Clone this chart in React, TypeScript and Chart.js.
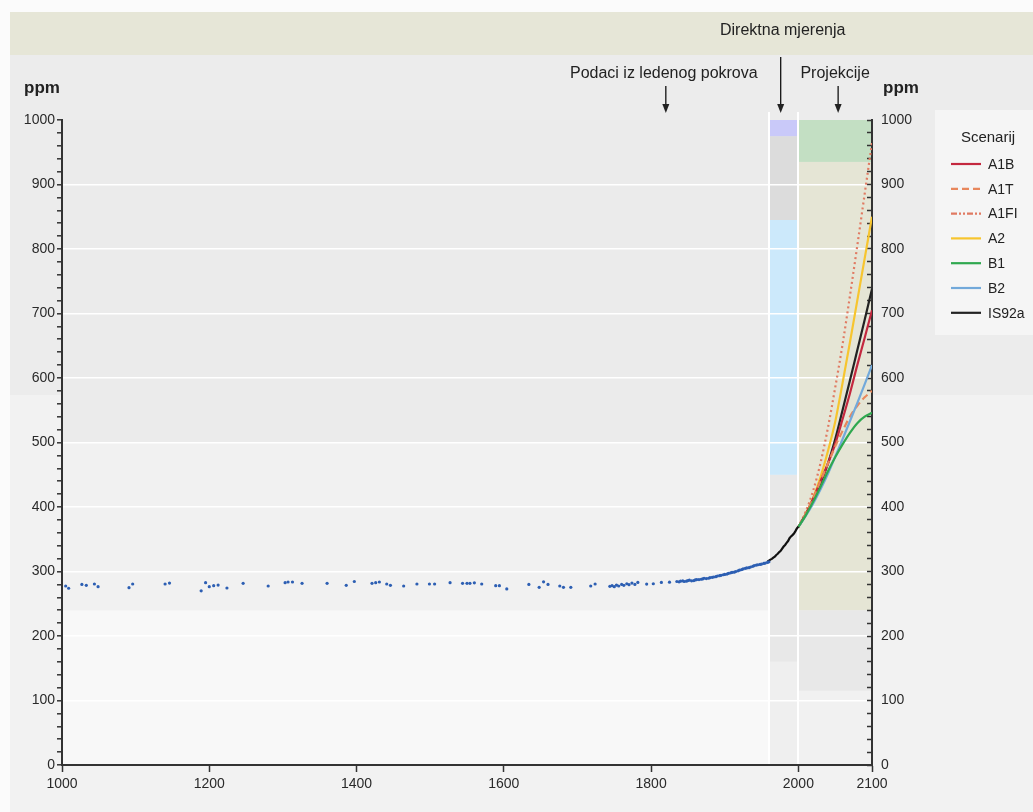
import React, { useEffect, useRef } from "react";
import { Chart, registerables } from "chart.js";

Chart.register(...registerables);

const W = 1033;
const H = 812;
const FONT = "'Liberation Sans', Arial, sans-serif";

// ---- data ----
const xTickValues = [1000, 1200, 1400, 1600, 1800, 2000, 2100];

const iceYears = [
  1005, 1009, 1027, 1033, 1044, 1049, 1091, 1096, 1140, 1146, 1189, 1195, 1200, 1206, 1212, 1224, 1246, 1280,
  1303, 1307, 1313, 1326, 1360, 1386, 1397, 1421, 1426, 1431, 1441, 1446, 1464, 1482, 1499, 1506, 1527, 1544,
  1550, 1554, 1560, 1570, 1589, 1594, 1604, 1634, 1648, 1654, 1660, 1676, 1681, 1691, 1718, 1724, 1744, 1747,
  1750, 1753, 1756, 1760, 1763, 1767, 1770, 1774, 1778, 1782, 1794, 1803, 1814, 1825, 1835, 1838, 1840, 1843,
  1845, 1848, 1850, 1852, 1855, 1858, 1860, 1862, 1865, 1868, 1870, 1872, 1875, 1878, 1880, 1883, 1885, 1888,
  1890, 1893, 1895, 1898, 1900, 1903, 1905, 1908, 1910, 1913, 1915, 1918, 1920, 1923, 1925, 1928, 1930, 1933,
  1935, 1938, 1940, 1943, 1945, 1948, 1950, 1953, 1955, 1958, 1960,
];
const iceCO2 = [
  277.5, 274, 280, 278.6, 280.6, 276.4, 275, 280.6, 280.6, 282, 270, 282.6, 276.4, 278, 279, 274.4, 281.6, 277.5,
  282.6, 283.7, 283.7, 281.6, 281.6, 278.6, 284.5, 281.6, 282.6, 283.7, 280.6, 278.6, 277.5, 280.6, 280.6, 280.6, 282.6, 281.6,
  281.6, 281.6, 282.5, 280.6, 278, 278, 273, 280, 275.4, 284, 280, 277.5, 275.4, 275.4, 277.5, 280.6, 277, 278,
  276.5, 279, 277.5, 280, 278.5, 281, 279.5, 282, 280, 283, 280.5, 281, 283, 283.5, 284.5, 284, 285, 285.5,
  284.5, 285, 286, 286.5, 285.5, 286, 287, 287.5, 287.5, 288, 288.5, 289.5, 289, 289.5, 290.5, 291, 291.5, 292,
  293, 293.5, 294, 295, 295.5, 296, 297, 298, 298.5, 299, 300, 301, 302, 303, 304, 305, 305.5, 306,
  307, 308, 309, 310, 310.5, 311, 311.5, 312.5, 313, 314, 315,
];

const directYears = [1958, 1960, 1962, 1964, 1966, 1968, 1970, 1972, 1974, 1976, 1978, 1980, 1982, 1984, 1986, 1988, 1990, 1992, 1994, 1996, 1998, 2000];
const directCO2 = [315.3, 316.9, 318.4, 319.6, 321.4, 323.0, 325.7, 327.5, 330.2, 332.0, 335.4, 338.7, 341.1, 344.4, 347.2, 351.6, 354.4, 356.4, 358.8, 362.6, 366.7, 369.5];

const scenarioYears = [2000, 2010, 2020, 2030, 2040, 2050, 2060, 2070, 2080, 2090, 2100];
const scenarioNames = ["A1B", "A1T", "A1FI", "A2", "B1", "B2", "IS92a"];
const A1B = [369, 389, 413, 440, 467, 498, 536, 576, 620, 662, 705];
const A1T = [369, 389, 413, 440, 467, 494, 518, 540, 557, 570, 580];
const A1FI = [369, 393, 425, 468, 522, 585, 652, 727, 805, 885, 965];
const A2 = [369, 389, 414, 446, 486, 532, 592, 655, 720, 785, 850];
const B1 = [369, 387, 408, 431, 455, 477, 497, 515, 530, 540, 546];
const B2 = [369, 386, 405, 427, 451, 478, 505, 533, 561, 590, 620];
const IS92a = [369, 388, 411, 437, 467, 505, 550, 596, 643, 690, 738];

const labelIce = "Podaci iz ledenog pokrova";
const labelDirect = "Direktna mjerenja";
const labelProj = "Projekcije";
const legendTitle = "Scenarij";
const unitLabel = "ppm";

// ---- styles ----
const scenarioValues = [A1B, A1T, A1FI, A2, B1, B2, IS92a];
const scenarioColors = ["#c4283f", "#e8875c", "#e07a62", "#f7c52e", "#2fa84f", "#72a9da", "#222222"];
const scenarioDash: number[][] = [[], [7, 4], [2, 3], [], [], [], []];
const legendDash: number[][] = [[], [7, 4], [6, 2, 2, 2, 2, 2], [], [], [], []];
const drawOrder = [4, 5, 1, 0, 6, 3, 2];

const pts = (xs: number[], ys: number[]) => xs.map((x, i) => ({ x, y: ys[i] }));

const bgPlugin = {
  id: "bgPlugin",
  beforeDraw(chart: any) {
    const { ctx, chartArea: ca, scales } = chart;
    const xs = scales.x;
    const ys = scales.y;
    const band = (x0: number, x1: number, v0: number, v1: number, color: string) => {
      const px0 = xs.getPixelForValue(x0);
      const px1 = xs.getPixelForValue(x1);
      const py0 = ys.getPixelForValue(v1);
      const py1 = ys.getPixelForValue(v0);
      ctx.fillStyle = color;
      ctx.fillRect(px0, py0, px1 - px0, py1 - py0);
    };
    ctx.save();
    ctx.fillStyle = "#fbfbfb";
    ctx.fillRect(0, 0, W, H);
    ctx.fillStyle = "#ececec";
    ctx.fillRect(10, 12, W - 10, 383);
    ctx.fillStyle = "#f2f2f2";
    ctx.fillRect(10, 395, W - 10, H - 395);
    ctx.fillStyle = "#e6e6d7";
    ctx.fillRect(10, 12, W - 10, 43);

    // plot area bands
    band(1000, 2100, 0, 240, "#f8f8f8");
    band(1000, 2100, 240, 500, "#f1f1f1");
    band(1000, 2100, 500, 1000, "#ebebeb");
    // direct measurement column
    band(1960, 2000, 0, 160, "#efefef");
    band(1960, 2000, 160, 450, "#e8e8e8");
    band(1960, 2000, 450, 845, "#cce9fb");
    band(1960, 2000, 845, 975, "#dcdcdc");
    band(1960, 2000, 975, 1000, "#c9c9f9");
    // projection column
    band(2000, 2100, 0, 115, "#f1f1f1");
    band(2000, 2100, 115, 240, "#e8e8e8");
    band(2000, 2100, 240, 935, "#e5e5d5");
    band(2000, 2100, 935, 1000, "#c3dfc3");

    // vertical separators
    ctx.strokeStyle = "#ffffff";
    ctx.lineWidth = 2;
    [1960, 2000].forEach((yr) => {
      const px = Math.round(xs.getPixelForValue(yr));
      ctx.beginPath();
      ctx.moveTo(px, ca.top - 8);
      ctx.lineTo(px, ca.bottom);
      ctx.stroke();
    });

    // legend box
    ctx.fillStyle = "#f5f5f5";
    ctx.fillRect(935, 110, W - 935, 225);
    ctx.restore();
  },
  afterDraw(chart: any) {
    const { ctx, chartArea: ca, scales } = chart;
    const xs = scales.x;
    ctx.save();
    ctx.fillStyle = "#222";
    ctx.strokeStyle = "#111";
    ctx.textBaseline = "middle";
    ctx.textAlign = "center";
    ctx.font = `16px ${FONT}`;

    const arrow = (x: number, y0: number, y1: number) => {
      ctx.lineWidth = 1.3;
      ctx.beginPath();
      ctx.moveTo(x, y0);
      ctx.lineTo(x, y1 - 6);
      ctx.stroke();
      ctx.beginPath();
      ctx.moveTo(x - 3.5, y1 - 9);
      ctx.lineTo(x + 3.5, y1 - 9);
      ctx.lineTo(x, y1);
      ctx.closePath();
      ctx.fill();
    };

    const xIce = xs.getPixelForValue(1820);
    const xDirect = xs.getPixelForValue(1976);
    const xProj = xs.getPixelForValue(2054);
    ctx.fillText(labelDirect, xDirect + 2, 31);
    arrow(xDirect, 57, ca.top - 7);
    ctx.fillText(labelIce, xIce - 2, 74);
    arrow(xIce, 86, ca.top - 7);
    ctx.fillText(labelProj, xProj - 3, 74);
    arrow(xProj, 86, ca.top - 7);

    // unit labels
    ctx.font = `bold 17px ${FONT}`;
    ctx.textAlign = "left";
    ctx.fillText(unitLabel, 24, 88);
    ctx.fillText(unitLabel, 883, 88);

    // legend
    ctx.font = `15px ${FONT}`;
    ctx.textAlign = "center";
    ctx.fillText(legendTitle, 988, 138);
    ctx.font = `14px ${FONT}`;
    ctx.textAlign = "left";
    scenarioNames.forEach((name, i) => {
      const y = 164 + i * 24.8;
      ctx.strokeStyle = scenarioColors[i];
      ctx.lineWidth = 2.2;
      ctx.setLineDash(legendDash[i]);
      ctx.beginPath();
      ctx.moveTo(951, y);
      ctx.lineTo(981, y);
      ctx.stroke();
      ctx.setLineDash([]);
      ctx.fillStyle = "#222";
      ctx.fillText(name, 988, y + 1);
    });
    ctx.restore();
  },
};

export default function App() {
  const canvasRef = useRef<HTMLCanvasElement | null>(null);

  useEffect(() => {
    if (!canvasRef.current) return;
    const tickFont = { family: FONT, size: 14 };
    const yTicks = {
      stepSize: 20,
      autoSkip: false,
      font: tickFont,
      color: "#2a2a2a",
      callback: (v: any) => (Number(v) % 100 === 0 ? String(v) : ""),
    };

    const scenarioSets = drawOrder.map((i) => ({
      label: scenarioNames[i],
      data: pts(scenarioYears, scenarioValues[i]),
      showLine: true,
      borderColor: scenarioColors[i],
      backgroundColor: scenarioColors[i],
      borderWidth: 2.2,
      borderDash: scenarioDash[i],
      pointRadius: 0,
      cubicInterpolationMode: "monotone" as const,
      fill: false,
    }));

    const chart = new Chart(canvasRef.current, {
      type: "scatter",
      data: {
        datasets: [
          {
            label: "ice",
            data: pts(iceYears, iceCO2),
            pointRadius: 1.6,
            pointBackgroundColor: "#2d5fb3",
            pointBorderWidth: 0,
            showLine: false,
          },
          {
            label: "direct",
            data: pts(directYears, directCO2),
            showLine: true,
            borderColor: "#111111",
            borderWidth: 2.2,
            pointRadius: 0,
            fill: false,
          },
          ...scenarioSets,
        ],
      },
      options: {
        responsive: false,
        animation: false,
        layout: { padding: { top: 120, left: 0, right: 0, bottom: 0 } },
        plugins: {
          legend: { display: false },
          tooltip: { enabled: false },
        },
        scales: {
          x: {
            type: "linear",
            position: "bottom",
            min: 1000,
            max: 2100,
            afterBuildTicks: (s: any) => {
              s.ticks = xTickValues.map((v) => ({ value: v }));
            },
            afterFit: (s: any) => {
              s.height = 47;
            },
            ticks: {
              autoSkip: false,
              maxRotation: 0,
              font: tickFont,
              color: "#2a2a2a",
              padding: 4,
              callback: (v: any) => String(v),
            },
            grid: {
              drawOnChartArea: false,
              drawTicks: true,
              tickLength: 7,
              tickColor: "#333",
              tickWidth: 1.5,
            },
            border: { color: "#333", width: 2 },
          },
          y: {
            type: "linear",
            position: "left",
            min: 0,
            max: 1000,
            afterFit: (s: any) => {
              s.width = 62;
            },
            ticks: { ...yTicks, padding: 2 },
            grid: {
              color: (c: any) =>
                c.tick && c.tick.value % 100 === 0 && c.tick.value !== 0 && c.tick.value !== 1000
                  ? "#ffffff"
                  : "rgba(0,0,0,0)",
              lineWidth: 1.6,
              drawTicks: true,
              tickLength: 5,
              tickColor: "#333",
              tickWidth: 1.5,
            },
            border: { color: "#333", width: 2 },
          },
          y2: {
            type: "linear",
            position: "right",
            display: true,
            min: 0,
            max: 1000,
            afterFit: (s: any) => {
              s.width = W - 872;
            },
            ticks: { ...yTicks, padding: 14 },
            grid: {
              drawOnChartArea: false,
              drawTicks: true,
              tickLength: -5,
              tickColor: "#333",
              tickWidth: 1.5,
            },
            border: { color: "#333", width: 2 },
          },
        },
      } as any,
      plugins: [bgPlugin],
    });
    return () => chart.destroy();
  }, []);

  return (
    <div style={{ position: "absolute", left: 0, top: 0, width: W, height: H }}>
      <canvas ref={canvasRef} width={W} height={H} style={{ display: "block" }} />
    </div>
  );
}
